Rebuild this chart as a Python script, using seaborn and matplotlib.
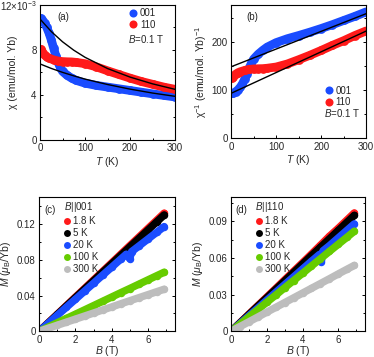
import numpy as np
import matplotlib
matplotlib.use('Agg')
import matplotlib.pyplot as plt
from matplotlib.lines import Line2D
from matplotlib.ticker import AutoMinorLocator, FixedLocator
import seaborn as sns

# (a)/(b) susceptibility, chi in units of 1e-3 emu/mol Yb
T_001 = [2, 5, 10, 15, 20, 25, 30, 35, 40, 45, 50, 60, 70, 80, 100, 125, 150, 175, 200, 225, 250, 275, 300]
chi_001 = [10.8, 10.7, 10.4, 10.0, 9.5, 8.9, 8.2, 7.5, 6.9, 6.45, 6.1, 5.75, 5.5, 5.3, 5.05, 4.85, 4.7, 4.55, 4.4, 4.25, 4.1, 3.96, 3.82]
T_110 = [2, 5, 10, 15, 20, 30, 40, 50, 60, 70, 80, 100, 125, 150, 175, 200, 225, 250, 275, 300]
chi_110 = [8.05, 7.85, 7.55, 7.38, 7.27, 7.12, 7.02, 6.97, 6.95, 6.94, 6.9, 6.78, 6.5, 6.15, 5.82, 5.5, 5.2, 4.95, 4.7, 4.5]

# Curie-Weiss fit curves
T_fit = [0, 25, 50, 75, 100, 150, 200, 250, 300]
chi_fit_001 = [6.76, 6.36, 6.01, 5.70, 5.41, 4.93, 4.52, 4.17, 3.88]
chi_fit_110 = [10.75, 9.64, 8.73, 7.98, 7.35, 6.35, 5.59, 4.99, 4.50]
T_lin = [0, 300]
inv_fit_001 = [148, 258]
inv_fit_110 = [93, 222]

# (c) M vs B, B || 001
temps = ['1.8 K', '5 K', '20 K', '100 K', '300 K']
colors = ['#ff1a1a', '#000000', '#1a4cff', '#66cc00', '#bdbdbd']
B = [0, 0.5, 1, 1.5, 2, 2.5, 3, 3.5, 4, 4.5, 5, 5.5, 6, 6.5, 6.9]
M001_1p8 = [0, 0.0096, 0.0191, 0.0287, 0.0383, 0.0478, 0.0574, 0.0669, 0.0765, 0.0861, 0.0957, 0.1052, 0.1148, 0.1243, 0.132]
M001_5 = [0, 0.0094, 0.0188, 0.0283, 0.0377, 0.0471, 0.0565, 0.066, 0.0754, 0.0848, 0.0942, 0.1036, 0.113, 0.1225, 0.130]
B001_20 = [0, 0.5, 1, 1.5, 2, 2.5, 3, 3.5, 4, 4.5, 4.8, 5.0, 5.1, 5.5, 6, 6.5, 6.9]
M001_20 = [0, 0.009, 0.0179, 0.0269, 0.0358, 0.0448, 0.0537, 0.0627, 0.0716, 0.0806, 0.086, 0.081, 0.089, 0.0952, 0.103, 0.1108, 0.117]
M001_100 = [0, 0.0048, 0.0096, 0.0144, 0.0191, 0.0239, 0.0287, 0.0335, 0.0383, 0.0431, 0.0478, 0.0526, 0.0574, 0.0622, 0.066]
M001_300 = [0, 0.0034, 0.0068, 0.0102, 0.0136, 0.017, 0.0204, 0.0238, 0.0272, 0.0307, 0.0341, 0.0375, 0.0409, 0.0443, 0.047]

# (d) M vs B, B || 110
M110_1p8 = [0, 0.007, 0.0141, 0.0211, 0.0281, 0.0351, 0.0422, 0.0492, 0.0562, 0.0633, 0.0705, 0.0778, 0.0844, 0.0914, 0.097]
M110_5 = [0, 0.0069, 0.0138, 0.0207, 0.0275, 0.0344, 0.0413, 0.0482, 0.0551, 0.062, 0.0688, 0.0757, 0.0826, 0.0895, 0.095]
B110_20 = [0, 0.5, 1, 1.5, 2, 2.5, 3, 3.5, 4, 4.5, 4.95, 5.05, 5.15, 5.5, 6, 6.5, 6.9]
M110_20 = [0, 0.0064, 0.0128, 0.0191, 0.0255, 0.0319, 0.0383, 0.0446, 0.051, 0.0574, 0.063, 0.057, 0.066, 0.0701, 0.0765, 0.0829, 0.088]
M110_100 = [0, 0.0059, 0.0119, 0.0178, 0.0238, 0.0297, 0.0357, 0.0416, 0.0475, 0.0535, 0.0594, 0.0654, 0.0713, 0.0772, 0.082]
M110_300 = [0, 0.0039, 0.0078, 0.0117, 0.0157, 0.0196, 0.0235, 0.0274, 0.0313, 0.0352, 0.0391, 0.043, 0.047, 0.0509, 0.054]

BLUE = '#1a4cff'
RED = '#ff1a1a'

sns.set_theme(style='ticks')
plt.rcParams['font.family'] = ['Liberation Sans', 'DejaVu Sans']
plt.rcParams['mathtext.fontset'] = 'custom'
plt.rcParams['mathtext.rm'] = 'Liberation Sans'
plt.rcParams['mathtext.it'] = 'Liberation Sans:italic'
plt.rcParams['font.size'] = 7
plt.rcParams['axes.linewidth'] = 0.8
plt.rcParams['axes.edgecolor'] = 'black'


def style_axes(ax):
    ax.tick_params(which='both', direction='in', right=True, top=False,
                   labelsize=7, color='black', width=0.7, pad=2.5)
    ax.tick_params(which='major', length=2.2)
    ax.tick_params(which='minor', length=1.3)
    ax.xaxis.set_minor_locator(AutoMinorLocator(2))
    ax.yaxis.set_minor_locator(AutoMinorLocator(2))
    for s in ax.spines.values():
        s.set_visible(True)
        s.set_color('black')
        s.set_linewidth(0.8)


def band(ax, x, y, c, w):
    sns.lineplot(x=x, y=y, ax=ax, color=c, lw=w, marker='o', ms=w,
                 mec='none', estimator=None, sort=False,
                 solid_capstyle='round', solid_joinstyle='round')


fig = plt.figure(figsize=(3.74, 3.57), dpi=100)
ax_a = fig.add_axes([0.107, 0.608, 0.361, 0.378])
ax_b = fig.add_axes([0.618, 0.613, 0.361, 0.373])
ax_c = fig.add_axes([0.105, 0.072, 0.363, 0.376])
ax_d = fig.add_axes([0.618, 0.072, 0.358, 0.376])

# (a) chi vs T
band(ax_a, T_001, chi_001, BLUE, 6.3)
band(ax_a, T_110, chi_110, RED, 6.3)
ax_a.plot(T_fit, chi_fit_001, color='black', lw=1.0)
ax_a.plot(T_fit, chi_fit_110, color='black', lw=1.0)
ax_a.set_xlim(0, 300)
ax_a.set_ylim(0, 12)
ax_a.xaxis.set_major_locator(FixedLocator([0, 100, 200, 300]))
ax_a.yaxis.set_major_locator(FixedLocator([0, 4, 8, 12]))
ax_a.set_yticklabels(['0', '4', '8', r'12$\times$10$^{-3}$'])
ax_a.set_xlabel(r'$T$ (K)', fontsize=7.5, labelpad=1)
ax_a.set_ylabel(r'χ (emu/mol. Yb)', fontsize=7.5)
ax_a.yaxis.set_label_coords(-0.165, 0.5)
style_axes(ax_a)
ax_a.text(0.125, 0.91, '(a)', transform=ax_a.transAxes, fontsize=7, va='center')

# (b) 1/chi vs T
inv_001 = [1000.0 / c for c in chi_001]
inv_110 = [1000.0 / c for c in chi_110]
band(ax_b, T_001, inv_001, BLUE, 6.3)
band(ax_b, T_110, inv_110, RED, 6.3)
ax_b.plot(T_lin, inv_fit_001, color='black', lw=1.0)
ax_b.plot(T_lin, inv_fit_110, color='black', lw=1.0)
ax_b.set_xlim(0, 300)
ax_b.set_ylim(0, 276)
ax_b.xaxis.set_major_locator(FixedLocator([0, 100, 200, 300]))
ax_b.yaxis.set_major_locator(FixedLocator([0, 100, 200]))
ax_b.set_xlabel(r'$T$ (K)', fontsize=7.5, labelpad=1)
ax_b.set_ylabel(r'χ$^{-1}$ (emu/mol. Yb)$^{-1}$', fontsize=7.5)
ax_b.yaxis.set_label_coords(-0.165, 0.5)
style_axes(ax_b)
ax_b.text(0.11, 0.91, '(b)', transform=ax_b.transAxes, fontsize=7, va='center')


def chi_legend(ax, x0, y0):
    handles = [Line2D([], [], ls='none', marker='o', ms=5.8, color=BLUE, mec='none'),
               Line2D([], [], ls='none', marker='o', ms=5.8, color=RED, mec='none')]
    ax.legend(handles, ['001', '110'], loc='upper left', bbox_to_anchor=(x0, y0),
              frameon=False, fontsize=7, handlelength=0.8, handletextpad=0.3,
              labelspacing=0.15, borderpad=0, borderaxespad=0)


chi_legend(ax_a, 0.66, 0.975)
ax_a.text(0.655, 0.75, r'$B$=0.1 T', transform=ax_a.transAxes, fontsize=7, va='center')
chi_legend(ax_b, 0.695, 0.395)
ax_b.text(0.69, 0.19, r'$B$=0.1 T', transform=ax_b.transAxes, fontsize=7, va='center')

# (c), (d) magnetization
sets = [
    (ax_c, '(c)', r'$B$||001',
     [(B, M001_1p8), (B, M001_5), (B001_20, M001_20), (B, M001_100), (B, M001_300)],
     0.15, [0, 0.04, 0.08, 0.12], ['0', '0.04', '0.08', '0.12']),
    (ax_d, '(d)', r'$B$||110',
     [(B, M110_1p8), (B, M110_5), (B110_20, M110_20), (B, M110_100), (B, M110_300)],
     0.11, [0, 0.03, 0.06, 0.09], ['0', '0.03', '0.06', '0.09']),
]
for ax, tag, title, series, ymax, yt, ytl in sets:
    for (x, y), c in zip(series, colors):
        band(ax, x, y, c, 5.4)
    ax.set_xlim(0, 7.5)
    ax.set_ylim(0, ymax)
    ax.xaxis.set_major_locator(FixedLocator([0, 2, 4, 6]))
    ax.yaxis.set_major_locator(FixedLocator(yt))
    ax.set_yticklabels(ytl)
    ax.set_xlabel(r'$B$ (T)', fontsize=7.5, labelpad=-0.5)
    ax.set_ylabel(r'$M$ ($\mu_{\rm B}$/Yb)', fontsize=7.5)
    ax.yaxis.set_label_coords(-0.195, 0.5)
    style_axes(ax)
    ax.text(0.035, 0.9, tag, transform=ax.transAxes, fontsize=7, va='center')
    handles = [Line2D([], [], ls='none', marker='o', ms=5, color=c, mec='none') for c in colors]
    leg = ax.legend(handles, temps, title=title, loc='upper left', bbox_to_anchor=(0.18, 0.975),
                    frameon=False, fontsize=7, title_fontsize=7, handlelength=0.7,
                    handletextpad=0.3, labelspacing=0.2, borderpad=0, borderaxespad=0,
                    alignment='left')

fig.savefig('out.png', dpi=100)
